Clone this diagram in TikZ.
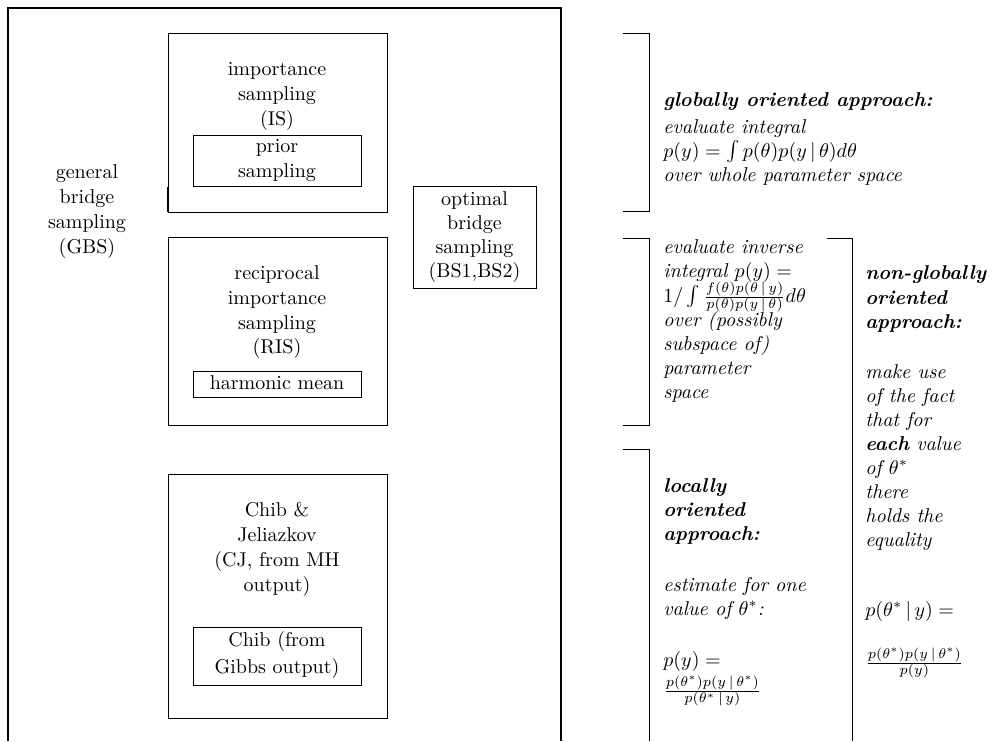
\documentclass[tikz,border=0pt]{standalone}
\usepackage{amsmath}
\newcommand{\cnd}{\,|\,}
\begin{document}
\begin{tikzpicture}[x=0.5pt,y=-0.5pt,
  box/.style={draw,line width=0.45pt},
  ct/.style={anchor=base,inner sep=0pt},
  lt/.style={anchor=base west,inner sep=0pt,font=\itshape},
  brk/.style={draw,line width=0.45pt}]
\useasboundingbox (0,0) rectangle (998,741);
% outer GBS frame
\draw[line width=0.6pt] (8,741) -- (8,8) -- (561,8) -- (561,741);
% boxes
\draw[box] (168,33) rectangle (387,212);
\draw[line width=1.1pt] (168,187) -- (168,212);
\draw[box] (193,135) rectangle (361,186);
\draw[box] (168,237) rectangle (387,425);
\draw[box] (193,371) rectangle (361,397);
\draw[box] (168,474) rectangle (387,718);
\draw[box] (193,627) rectangle (361,685);
\draw[box] (413,186) rectangle (536,288);
% GBS text
\node[ct] (gbs1) at (87,178) {general};
\node[ct] (gbs2) at (87,203) {bridge};
\node[ct] (gbs3) at (87,228) {sampling};
\node[ct] (gbs4) at (87,253) {(GBS)};
% IS
\node[ct] (is1) at (277,75) {importance};
\node[ct] (is2) at (277,100) {sampling};
\node[ct] (is3) at (277,125) {(IS)};
\node[ct] (pr1) at (277,152) {prior};
\node[ct] (pr2) at (277,177) {sampling};
% optimal
\node[ct] (ob1) at (474.5,205) {optimal};
\node[ct] (ob2) at (474.5,229) {bridge};
\node[ct] (ob3) at (474.5,253) {sampling};
\node[ct] (ob4) at (474.5,277) {(BS1,BS2)};
% RIS
\node[ct] (ris1) at (277,279) {reciprocal};
\node[ct] (ris2) at (277,304) {importance};
\node[ct] (ris3) at (277,329) {sampling};
\node[ct] (ris4) at (277,353) {(RIS)};
\node[ct] (hm) at (277,389) {harmonic mean};
% CJ
\node[ct] (cj1) at (277,516) {Chib \&};
\node[ct] (cj2) at (277,541) {Jeliazkov};
\node[ct] (cj3) at (277,566) {(CJ, from MH};
\node[ct] (cj4) at (277,591) {output)};
\node[ct] (ch1) at (277,646) {Chib (from};
\node[ct] (ch2) at (277,673) {Gibbs output)};
% brackets
\draw[brk] (623,33) -- (649,33) -- (649,211) -- (623,211);
\draw[brk] (623,238) -- (649,238) -- (649,425) -- (623,425);
\draw[brk] (623,449) -- (649,449) -- (649,741);
\draw[brk] (827,238) -- (852,238) -- (852,741);
% global text
\node[lt] (g1) at (663,106) {\bfseries globally oriented approach:};
\node[lt] (g2) at (663,133) {evaluate integral};
\node[lt] (g3) at (663,157) {$p(y)=\int p(\theta)p(y\cnd\theta)d\theta$};
\node[lt] (g4) at (663,181) {over whole parameter space};
% inverse text
\node[lt] (v1) at (663,253) {evaluate inverse};
\node[lt] (v2) at (663,277) {integral $p(y)=$};
\node[lt] (v3) at (663,302) {$1/\int\frac{f(\theta)p(\theta\cnd y)}{p(\theta)p(y\cnd\theta)}d\theta$};
\node[lt] (v4) at (663,326) {over (possibly};
\node[lt] (v5) at (663,350) {subspace of)};
\node[lt] (v6) at (663,374) {parameter};
\node[lt] (v7) at (663,398) {space};
% local text
\node[lt] (l1) at (663,492) {\bfseries locally};
\node[lt] (l2) at (663,516) {\bfseries oriented};
\node[lt] (l3) at (663,540) {\bfseries approach:};
\node[lt] (l4) at (663,591) {estimate for one};
\node[lt] (l5) at (663,615) {value of $\theta^*$:};
\node[lt] (l6) at (663,666) {$p(y)=$};
\node[lt] (l7) at (663,696) {$\frac{p(\theta^*)p(y\cnd\theta^*)}{p(\theta^*\cnd y)}$};
% non-global text
\node[lt] (n1) at (865,279) {\bfseries non-globally};
\node[lt] (n2) at (865,304) {\bfseries oriented};
\node[lt] (n3) at (865,328) {\bfseries approach:};
\node[lt] (n4) at (865,378) {make use};
\node[lt] (n5) at (865,402) {of the fact};
\node[lt] (n6) at (865,426) {that for};
\node[lt] (n7) at (865,450) {\textbf{each} value};
\node[lt] (n8) at (865,474) {of $\theta^*$};
\node[lt] (n9) at (865,498) {there};
\node[lt] (n10) at (865,522) {holds the};
\node[lt] (n11) at (865,546) {equality};
\node[lt] (n12) at (865,616) {$p(\theta^*\cnd y)=$};
\node[lt] (n13) at (865,668) {$\frac{p(\theta^*)p(y\cnd\theta^*)}{p(y)}$};
\end{tikzpicture}
\end{document}
